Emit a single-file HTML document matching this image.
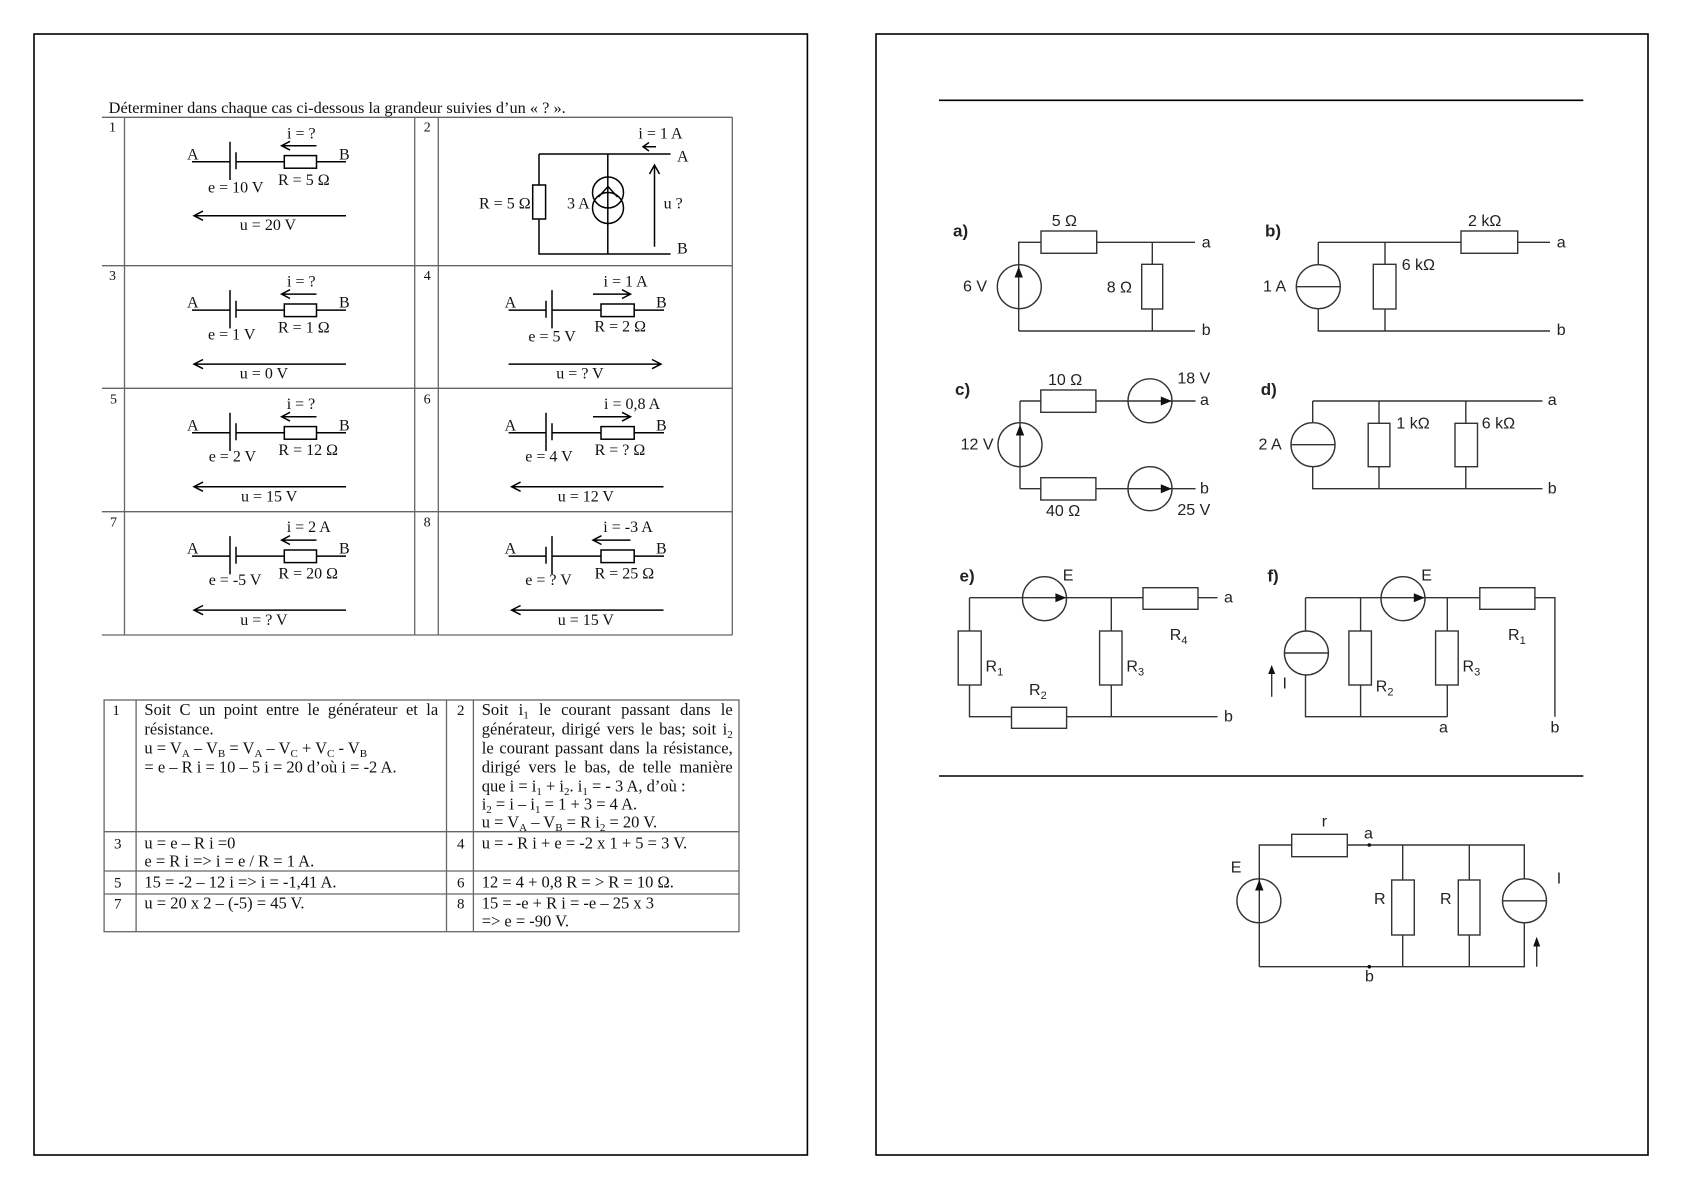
<!DOCTYPE html>
<html>
<head>
<meta charset="utf-8">
<style>
html,body{margin:0;padding:0;background:#fff;}
svg{display:block;}
.serif{font-family:"Liberation Serif","DejaVu Serif",serif;fill:#111;}
.sans{font-family:"Liberation Sans","DejaVu Sans",sans-serif;fill:#222;}
</style>
</head>
<body>
<svg width="1683" height="1190" viewBox="0 0 1683 1190" xmlns="http://www.w3.org/2000/svg">
<rect x="0" y="0" width="1683" height="1190" fill="#fff"/>

<!-- page borders -->
<rect x="34" y="34" width="773.4" height="1121" fill="none" stroke="#000" stroke-width="1.6"/>
<rect x="876" y="34" width="772" height="1121" fill="none" stroke="#000" stroke-width="1.6"/>

<!-- ================= LEFT PAGE ================= -->
<g class="serif">
<text x="108.7" y="113" font-size="15.5" textLength="457" lengthAdjust="spacingAndGlyphs">Déterminer dans chaque cas ci-dessous la grandeur suivies d’un « ? ».</text>
</g>

<!-- table 1 grid -->
<g stroke="#666" stroke-width="1.3" fill="none">
<path d="M101.9,117.3H732.3M101.9,265.7H732.3M101.9,388.3H732.3M101.9,511.7H732.3M101.9,635H732.3"/>
<path d="M124.5,117.3V635M414.7,117.3V635M438.3,117.3V635M732.3,117.3V635"/>
</g>

<!-- numbers -->
<g class="serif" font-size="14">
<text x="109" y="131.7">1</text><text x="423.8" y="131.7">2</text>
<text x="109" y="280">3</text><text x="423.8" y="280">4</text>
<text x="110" y="403.3">5</text><text x="423.6" y="403.3">6</text>
<text x="110" y="526.7">7</text><text x="423.6" y="526.7">8</text>
</g>

<!-- Case 1 -->
<g transform="translate(0,117.3)">
<g stroke="#000" stroke-width="1.5" fill="none">
<path d="M192,44.4H230M236,44.4H284.3M316.5,44.4H346"/>
<path d="M230,24.4V62.7M236,35V52"/>
<rect x="284.3" y="38.3" width="32.2" height="12.6" fill="#fff"/>
<path d="M281.6,28.4H316.5M290,24L281.6,28.4L290,32.8"/>
<path d="M194,98.4H346M203,93.8L194,98.4L203,103"/>
</g>
<g class="serif" font-size="16">
<text x="187" y="42">A</text><text x="339" y="42">B</text>
<text x="287" y="21">i = ?</text>
<text x="208" y="75.4">e = 10 V</text>
<text x="278" y="67.7">R = 5 Ω</text>
<text x="239.8" y="112.7">u = 20 V</text>
</g>
</g>

<!-- Case 3 -->
<g transform="translate(0,265.7)">
<g stroke="#000" stroke-width="1.5" fill="none">
<path d="M192,44.4H230M236,44.4H284.3M316.5,44.4H346"/>
<path d="M230,24.4V62.7M236,35V52"/>
<rect x="284.3" y="38.3" width="32.2" height="12.6" fill="#fff"/>
<path d="M281.6,28.4H316.5M290,24L281.6,28.4L290,32.8"/>
<path d="M194,98.4H346M203,93.8L194,98.4L203,103"/>
</g>
<g class="serif" font-size="16">
<text x="187" y="42">A</text><text x="339" y="42">B</text>
<text x="287" y="21">i = ?</text>
<text x="208" y="74">e = 1 V</text>
<text x="278" y="67">R = 1 Ω</text>
<text x="239.8" y="112.6">u = 0 V</text>
</g>
</g>

<!-- Case 5 -->
<g transform="translate(0,388.3)">
<g stroke="#000" stroke-width="1.5" fill="none">
<path d="M192,44.4H230M236,44.4H284.3M316.5,44.4H346"/>
<path d="M230,24.4V62.7M236,35V52"/>
<rect x="284.3" y="38.3" width="32.2" height="12.6" fill="#fff"/>
<path d="M281.6,28.4H316.5M290,24L281.6,28.4L290,32.8"/>
<path d="M194,98.4H346M203,93.8L194,98.4L203,103"/>
</g>
<g class="serif" font-size="16">
<text x="187" y="42">A</text><text x="339" y="42">B</text>
<text x="286.7" y="20.5">i = ?</text>
<text x="208.7" y="73.4">e = 2 V</text>
<text x="278.4" y="66.7">R = 12 Ω</text>
<text x="241" y="113.4">u = 15 V</text>
</g>
</g>

<!-- Case 7 -->
<g transform="translate(0,511.7)">
<g stroke="#000" stroke-width="1.5" fill="none">
<path d="M192,44.4H230M236,44.4H284.3M316.5,44.4H346"/>
<path d="M230,24.4V62.7M236,35V52"/>
<rect x="284.3" y="38.3" width="32.2" height="12.6" fill="#fff"/>
<path d="M281.6,28.4H316.5M290,24L281.6,28.4L290,32.8"/>
<path d="M194,98.4H346M203,93.8L194,98.4L203,103"/>
</g>
<g class="serif" font-size="16">
<text x="187" y="42">A</text><text x="339" y="42">B</text>
<text x="286.7" y="20.5">i = 2 A</text>
<text x="208.7" y="73.4">e = -5 V</text>
<text x="278.4" y="66.7">R = 20 Ω</text>
<text x="240.2" y="113.4">u = ? V</text>
</g>
</g>

<!-- Case 4 -->
<g transform="translate(0,265.7)">
<g stroke="#000" stroke-width="1.5" fill="none">
<path d="M508.6,44.4H546M552,44.4H601M634.2,44.4H664"/>
<path d="M546,35V52M552,24.4V62.7"/>
<rect x="601" y="38.3" width="33.2" height="12.6" fill="#fff"/>
<path d="M593,28.4H630.5M622,24L630.5,28.4L622,32.8"/>
<path d="M508.6,98.4H661M652,93.8L661,98.4L652,103"/>
</g>
<g class="serif" font-size="16">
<text x="504.6" y="42">A</text><text x="656" y="42">B</text>
<text x="603.5" y="21">i = 1 A</text>
<text x="528.4" y="76">e = 5 V</text>
<text x="594.4" y="66">R = 2 Ω</text>
<text x="556.3" y="112.6">u = ? V</text>
</g>
</g>

<!-- Case 6 -->
<g transform="translate(0,388.3)">
<g stroke="#000" stroke-width="1.5" fill="none">
<path d="M508.6,44.4H546M552,44.4H601M634.2,44.4H664"/>
<path d="M546,24.4V62.7M552,35V52"/>
<rect x="601" y="38.3" width="33.2" height="12.6" fill="#fff"/>
<path d="M593,28.4H630.5M622,24L630.5,28.4L622,32.8"/>
<path d="M511.6,98.4H663.5M520.6,93.8L511.6,98.4L520.6,103"/>
</g>
<g class="serif" font-size="16">
<text x="504.6" y="42">A</text><text x="656" y="42">B</text>
<text x="604" y="20.5">i = 0,8 A</text>
<text x="525.3" y="73.4">e = 4 V</text>
<text x="594.6" y="66.7">R = ? Ω</text>
<text x="557.7" y="113.4">u = 12 V</text>
</g>
</g>

<!-- Case 8 -->
<g transform="translate(0,511.7)">
<g stroke="#000" stroke-width="1.5" fill="none">
<path d="M508.6,44.4H546M552,44.4H601M634.2,44.4H664"/>
<path d="M546,35V52M552,24.4V62.7"/>
<rect x="601" y="38.3" width="33.2" height="12.6" fill="#fff"/>
<path d="M593,28.4H630.5M601.5,24L593,28.4L601.5,32.8"/>
<path d="M511.6,98.4H663.5M520.6,93.8L511.6,98.4L520.6,103"/>
</g>
<g class="serif" font-size="16">
<text x="504.6" y="42">A</text><text x="656" y="42">B</text>
<text x="603.3" y="20.5">i = -3 A</text>
<text x="525.3" y="73.4">e = ? V</text>
<text x="594.6" y="66.7">R = 25 Ω</text>
<text x="557.7" y="113.4">u = 15 V</text>
</g>
</g>

<!-- Case 2 -->
<g stroke="#000" stroke-width="1.5" fill="none">
<path d="M539,154H670.6M539,154V254H670.6M607.8,154V254"/>
<rect x="532.7" y="185" width="12.9" height="34" fill="#fff"/>
<circle cx="608" cy="192.5" r="15.5"/>
<circle cx="608" cy="208" r="15.5"/>
<path d="M598.5,197L608,186.5L617.5,197"/>
<path d="M654.5,246.7V165M649.5,174L654.5,165L659.5,174"/>
<path d="M643,146.7H656M649,142.5L643,146.7L649,151"/>
</g>
<g class="serif" font-size="16">
<text x="638.4" y="138.3">i = 1 A</text>
<text x="677" y="161.7">A</text>
<text x="677" y="253.3">B</text>
<text x="479" y="208.3">R = 5 Ω</text>
<text x="567" y="208.3">3 A</text>
<text x="663.6" y="208.3">u ?</text>
</g>

<!-- table 2 grid -->
<g stroke="#666" stroke-width="1.3" fill="none">
<rect x="104.1" y="700" width="634.9" height="231.7"/>
<path d="M104.1,831.7H739M104.1,871H739M104.1,894H739"/>
<path d="M136.1,700V931.7M446.5,700V931.7M473.4,700V931.7"/>
</g>

<g class="serif" font-size="15">
<text x="112.4" y="715">1</text><text x="457" y="715">2</text>
<text x="114" y="848.3">3</text><text x="457" y="848.3">4</text>
<text x="114" y="887.7">5</text><text x="457" y="887.7">6</text>
<text x="114" y="908.3">7</text><text x="457" y="908.3">8</text>
</g>

<g class="serif" font-size="16.5">
<text x="144.4" y="715" word-spacing="4.3" textLength="293.8" lengthAdjust="spacing">Soit C un point entre le générateur et la</text>
<text x="144.4" y="734.3">résistance.</text>
<text x="144.4" y="753.3">u = V<tspan font-size="11" dy="3.5">A</tspan><tspan dy="-3.5"> – V</tspan><tspan font-size="11" dy="3.5">B</tspan><tspan dy="-3.5"> = V</tspan><tspan font-size="11" dy="3.5">A</tspan><tspan dy="-3.5"> – V</tspan><tspan font-size="11" dy="3.5">C</tspan><tspan dy="-3.5"> + V</tspan><tspan font-size="11" dy="3.5">C</tspan><tspan dy="-3.5"> - V</tspan><tspan font-size="11" dy="3.5">B</tspan></text>
<text x="144.4" y="772.3">= e – R i = 10 – 5 i = 20 d’où i = -2 A.</text>

<text x="481.7" y="715" word-spacing="6" textLength="251" lengthAdjust="spacing">Soit i<tspan font-size="11" dy="3.5">1</tspan><tspan dy="-3.5"> le courant passant dans le</tspan></text>
<text x="481.7" y="734.3" word-spacing="2.2" textLength="251" lengthAdjust="spacing">générateur, dirigé vers le bas; soit i<tspan font-size="11" dy="3.5">2</tspan></text>
<text x="481.7" y="753.3" word-spacing="1.6" textLength="251" lengthAdjust="spacing">le courant passant dans la résistance,</text>
<text x="481.7" y="772.3" word-spacing="4" textLength="251" lengthAdjust="spacing">dirigé vers le bas, de telle manière</text>
<text x="481.7" y="791.3">que i = i<tspan font-size="11" dy="3.5">1</tspan><tspan dy="-3.5"> + i</tspan><tspan font-size="11" dy="3.5">2</tspan><tspan dy="-3.5">. i</tspan><tspan font-size="11" dy="3.5">1</tspan><tspan dy="-3.5"> = - 3 A, d’où :</tspan></text>
<text x="481.7" y="809.5">i<tspan font-size="11" dy="3.5">2</tspan><tspan dy="-3.5"> = i – i</tspan><tspan font-size="11" dy="3.5">1</tspan><tspan dy="-3.5"> = 1 + 3 = 4 A.</tspan></text>
<text x="481.7" y="827.5">u = V<tspan font-size="11" dy="3.5">A</tspan><tspan dy="-3.5"> – V</tspan><tspan font-size="11" dy="3.5">B</tspan><tspan dy="-3.5"> = R i</tspan><tspan font-size="11" dy="3.5">2</tspan><tspan dy="-3.5"> = 20 V.</tspan></text>

<text x="144.4" y="848.3">u = e – R i =0</text>
<text x="144.4" y="866.7">e = R i =&gt; i = e / R = 1 A.</text>
<text x="481.7" y="848.3">u = - R i + e = -2 x 1 + 5 = 3 V.</text>

<text x="144.4" y="887.7">15 = -2 – 12 i =&gt; i = -1,41 A.</text>
<text x="481.7" y="887.7">12 = 4 + 0,8 R = &gt; R = 10 Ω.</text>

<text x="144.4" y="908.3">u = 20 x 2 – (-5) = 45 V.</text>
<text x="481.7" y="908.3">15 = -e + R i = -e – 25 x 3</text>
<text x="481.7" y="926.7">=&gt; e = -90 V.</text>
</g>

<!-- ================= RIGHT PAGE ================= -->
<g stroke="#000" stroke-width="1.6">
<path d="M939,100.3H1583.3M939,776H1583.3"/>
</g>

<g stroke="#333" stroke-width="1.4" fill="none">
<!-- a) -->
<path d="M1018.7,331V242.3H1041M1096.7,242.3H1195M1152.3,242.3V264.3M1152.3,309V331M1018.7,331H1195"/>
<rect x="1041" y="231" width="55.7" height="22.3"/>
<rect x="1141.7" y="264.3" width="21" height="44.7"/>
<circle cx="1019.3" cy="286.7" r="22"/>
<!-- b) -->
<path d="M1318.3,242.3H1461M1517.7,242.3H1550M1318.3,242.3V264.7M1318.3,308.7V331H1550M1385,242.3V264.3M1385,309V331M1296.3,286.7H1340.3"/>
<circle cx="1318.3" cy="286.7" r="22"/>
<rect x="1373.3" y="264.3" width="22.7" height="44.7"/>
<rect x="1461" y="231" width="56.7" height="22.3"/>
<!-- c) -->
<path d="M1020,401V488.7M1020,401H1040.8M1095.9,401H1195.6M1020,488.7H1040.8M1095.9,488.7H1195.6"/>
<rect x="1040.8" y="390" width="55.1" height="22.3"/>
<rect x="1040.8" y="477.7" width="55.1" height="22.3"/>
<circle cx="1020" cy="444.7" r="22"/>
<circle cx="1150" cy="400.8" r="22"/>
<circle cx="1150" cy="488.7" r="22"/>
<!-- d) -->
<path d="M1312.7,401H1542.5M1312.7,401V422.7M1312.7,466.7V488.7H1542.5M1291,444.7H1335M1379,401V423.3M1379,466.7V488.7M1465.8,401V423.3M1465.8,466.7V488.7"/>
<circle cx="1313" cy="444.7" r="22"/>
<rect x="1368.2" y="423.3" width="21.7" height="43.4"/>
<rect x="1455" y="423.3" width="22.5" height="43.4"/>
<!-- e) -->
<path d="M969.5,597.7H1143M1198,597.7H1217.5M969.5,597.7V631M969.5,685V716.7H1011.5M1066.6,716.7H1217.5M1111.3,597.7V631M1111.3,685V716.7"/>
<circle cx="1044.5" cy="598.7" r="22"/>
<rect x="958.2" y="631" width="23" height="54"/>
<rect x="1011.5" y="707.3" width="55.1" height="21"/>
<rect x="1099.6" y="631" width="22.4" height="54"/>
<rect x="1143" y="587.7" width="55" height="21.6"/>
<!-- f) -->
<path d="M1305.5,597.7H1479.8M1534.9,597.7H1554.9V716.7M1305.5,597.7V631M1305.5,675V716.7H1447.3M1284,653H1328.5M1360.6,597.7V631M1360.6,685V716.7M1447.3,597.7V631M1447.3,685V716.7M1271.7,696.7V672"/>
<circle cx="1306.4" cy="653" r="22"/>
<circle cx="1403" cy="598.7" r="22"/>
<rect x="1348.9" y="631" width="22.5" height="54"/>
<rect x="1435.6" y="631" width="22.6" height="54"/>
<rect x="1479.8" y="587.7" width="55.1" height="21.6"/>
<!-- bottom circuit -->
<path d="M1259.3,966.7V845H1291.7M1347.3,845H1524.3V879M1524.3,922.7V966.7H1259.3M1502.3,900.8H1546.7M1402.7,845V880M1402.7,935V966.7M1469.3,845V880M1469.3,935V966.7M1536.7,966.7V944"/>
<circle cx="1258.9" cy="900.8" r="22"/>
<circle cx="1524.5" cy="900.8" r="22"/>
<rect x="1291.7" y="834.3" width="55.6" height="22.4"/>
<rect x="1391.7" y="880" width="22.6" height="55"/>
<rect x="1458.3" y="880" width="21.7" height="55"/>
</g>

<!-- filled arrowheads -->
<g fill="#111" stroke="none">
<path d="M1018.7,266.5L1014.5,277.5H1022.9Z"/>
<path d="M1020,424.5L1015.8,435.5H1024.2Z"/>
<path d="M1171.8,401L1160.8,396.5V405.5Z"/>
<path d="M1171.8,488.7L1160.8,484.2V493.2Z"/>
<path d="M1066.4,597.7L1055.4,593.2V602.2Z"/>
<path d="M1424.8,597.7L1413.8,593.2V602.2Z"/>
<path d="M1271.7,665L1268.2,674H1275.2Z"/>
<path d="M1259.3,879.5L1255.1,890.5H1263.5Z"/>
<path d="M1536.7,936.7L1533.2,946.5H1540.2Z"/>
<circle cx="1369.3" cy="845" r="1.8"/>
<circle cx="1369.3" cy="966.7" r="1.8"/>
</g>

<!-- right page labels -->
<g class="sans" font-size="16">
<text x="953" y="236.7" font-weight="bold" font-size="17">a)</text>
<text x="1051.7" y="226">5 Ω</text>
<text x="963" y="291.7">6 V</text>
<text x="1106.7" y="292.7">8 Ω</text>
<text x="1201.7" y="247.3">a</text>
<text x="1201.7" y="335">b</text>

<text x="1265" y="236.7" font-weight="bold" font-size="17">b)</text>
<text x="1263" y="291.7">1 A</text>
<text x="1401.7" y="270">6 kΩ</text>
<text x="1468" y="226">2 kΩ</text>
<text x="1556.7" y="247.3">a</text>
<text x="1556.7" y="335">b</text>

<text x="955" y="395" font-weight="bold" font-size="17">c)</text>
<text x="960.6" y="449.3">12 V</text>
<text x="1048" y="385">10 Ω</text>
<text x="1177.4" y="383.3">18 V</text>
<text x="1200" y="405">a</text>
<text x="1046" y="516">40 Ω</text>
<text x="1200" y="493.3">b</text>
<text x="1177.4" y="515">25 V</text>

<text x="1260.7" y="395" font-weight="bold" font-size="17">d)</text>
<text x="1258.5" y="449.3">2 A</text>
<text x="1396.4" y="428.3">1 kΩ</text>
<text x="1481.8" y="428.3">6 kΩ</text>
<text x="1547.7" y="405">a</text>
<text x="1547.7" y="493.3">b</text>

<text x="959.5" y="581.7" font-weight="bold" font-size="17">e)</text>
<text x="1062.7" y="580.7">E</text>
<text x="1224" y="602.7">a</text>
<text x="1169.8" y="640">R<tspan font-size="11" dy="4">4</tspan></text>
<text x="985.5" y="671.7">R<tspan font-size="11" dy="4">1</tspan></text>
<text x="1126.4" y="671.7">R<tspan font-size="11" dy="4">3</tspan></text>
<text x="1029" y="695">R<tspan font-size="11" dy="4">2</tspan></text>
<text x="1224" y="721.7">b</text>

<text x="1267.4" y="581.7" font-weight="bold" font-size="17">f)</text>
<text x="1421.3" y="580.7">E</text>
<text x="1508" y="640">R<tspan font-size="11" dy="4">1</tspan></text>
<text x="1375.8" y="691.7">R<tspan font-size="11" dy="4">2</tspan></text>
<text x="1462.5" y="671.7">R<tspan font-size="11" dy="4">3</tspan></text>
<text x="1282.5" y="688.3">I</text>
<text x="1439" y="732.7">a</text>
<text x="1550.5" y="732.7">b</text>

<text x="1230.7" y="872.7">E</text>
<text x="1321.7" y="826.7">r</text>
<text x="1364" y="838.3">a</text>
<text x="1374" y="904">R</text>
<text x="1440" y="904">R</text>
<text x="1556.7" y="883.3">I</text>
<text x="1365" y="981.7">b</text>
</g>
</svg>
</body>
</html>
